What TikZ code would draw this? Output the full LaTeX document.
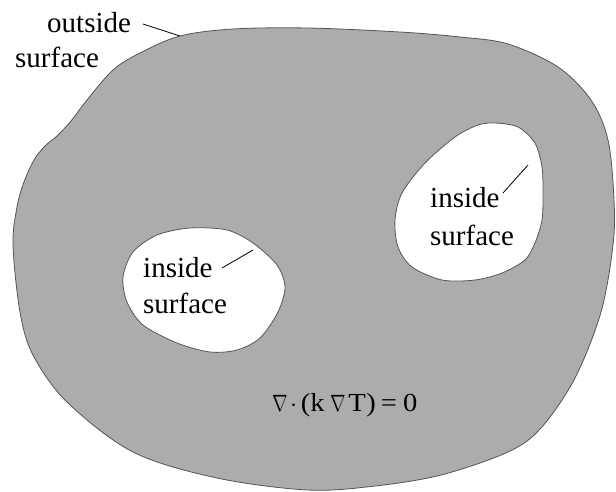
\documentclass[tikz,border=0pt]{standalone}
\usepackage{fontspec}
\setmainfont{Liberation Serif}
\newcommand{\mynabla}{\scalebox{0.68}[0.95]{$\nabla$}}
\begin{document}
\begin{tikzpicture}[x=1pt,y=-1pt,
  region/.style={fill=regiongray,draw=edgegray,line width=0.8pt},
  hole/.style={fill=white,draw=edgegray,line width=0.8pt},
  lbl/.style={anchor=base west,inner sep=0pt,font=\fontsize{29}{32}\selectfont},
  eqn/.style={anchor=base west,inner sep=0pt,font=\fontsize{26}{28}\selectfont},
  leader/.style={draw=black,line width=0.8pt}]
\definecolor{regiongray}{RGB}{172,172,172}
\definecolor{edgegray}{RGB}{85,85,85}
\useasboundingbox (0,0) rectangle (616,491);
\fill[white] (0,0) rectangle (616,491);
% outer region
\draw[region] plot[smooth cycle,tension=0.55] coordinates {
 (87,100) (113,70) (140,53) (180,36) (233,29) (308,28) (400,32) (460,37)
 (508,44) (558,67) (591,100) (608,140) (614,200) (613,245) (601,312)
 (575,378) (541,428) (508,452) (441,475) (375,486) (308,490) (217,478)
 (133,452) (67,402) (33,355) (20,312) (13,245) (17,207) (24,182)
 (34,160) (45,146) (57,136) (71,121)};
% left hole
\draw[hole] plot[smooth cycle] coordinates {
 (190,228) (227,230) (253,243) (277,265) (285,287) (278,312) (260,338)
 (237,350) (210,352) (177,343) (143,325) (127,302) (123,277) (133,252) (157,235)};
% right hole
\draw[hole] plot[smooth cycle] coordinates {
 (495,123) (518,127) (535,143) (542,167) (543,193) (542,220) (535,243)
 (525,260) (502,273) (475,280) (442,280) (412,267) (398,247) (395,220)
 (402,193) (425,163) (455,137) (478,125)};
% labels
\node[lbl] (out1) at (47,32) {outside};
\node[lbl] (out2) at (15,67) {surface};
\node[lbl] (ins1a) at (143,277) {inside};
\node[lbl] (ins1b) at (143,313) {surface};
\node[lbl] (ins2a) at (430,207) {inside};
\node[lbl] (ins2b) at (430,245) {surface};
\node[eqn] (eq) at (272,411) {\scalebox{1.1}[1]{\mynabla\hspace{2pt}$\cdot$\hspace{3pt}(k\hspace{5pt}\mynabla\hspace{2.5pt}T\hspace{0.5pt})\hspace{4.5pt}=\hspace{5.5pt}0}};
% leaders
\coordinate (o1) at (143,24);
\coordinate (o2) at (180,36);
\coordinate (a1) at (222,268);
\coordinate (a2) at (253,250);
\coordinate (b1) at (503,193);
\coordinate (b2) at (528,165);
\draw[leader] (o1) -- (o2);
\draw[leader] (a1) -- (a2);
\draw[leader] (b1) -- (b2);
\end{tikzpicture}
\end{document}
